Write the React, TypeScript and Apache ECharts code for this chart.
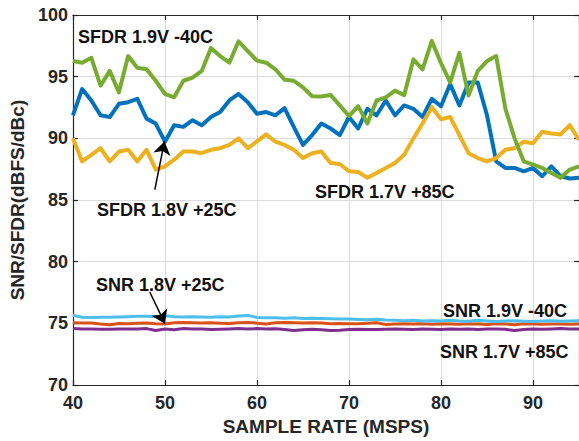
import React, { useEffect, useRef } from "react";
import * as echarts from "echarts";

const sampleRates: number[] = [];
for (let r = 40; r <= 95; r++) sampleRates.push(r);

const sfdr18_25C = [91.87, 94.0, 93.07, 91.87, 91.73, 92.8, 92.93, 93.2, 91.6, 91.2, 89.73, 91.07, 90.93, 91.47, 91.07, 91.73, 92.13, 93.07, 93.6, 92.93, 92.0, 92.13, 91.87, 92.45, 90.93, 89.47, 90.27, 91.2, 90.8, 90.27, 91.73, 90.8, 92.4, 91.87, 93.07, 91.87, 92.67, 92.4, 91.73, 93.2, 92.6, 94.4, 92.67, 94.53, 94.53, 91.87, 88.13, 87.6, 87.6, 87.33, 87.6, 86.93, 87.73, 86.93, 86.75, 86.8];
const snr18_25C = [75.05, 75.03, 75.04, 74.95, 74.9, 75.0, 74.98, 75.02, 75.04, 74.98, 74.96, 75.05, 75.08, 75.05, 75.03, 75.05, 75.02, 75.0, 75.05, 75.07, 75.02, 74.95, 75.05, 75.07, 75.05, 75.04, 75.06, 75.03, 74.98, 75.0, 74.98, 74.97, 75.02, 75.05, 74.92, 74.95, 74.97, 74.95, 74.98, 74.93, 74.98, 74.95, 74.93, 74.98, 74.95, 74.92, 74.97, 74.95, 74.9, 74.97, 74.95, 74.93, 74.96, 74.95, 74.93, 74.95];
const sfdr17_85C = [90.0, 88.13, 88.67, 89.2, 88.13, 88.93, 89.07, 88.13, 89.07, 87.47, 87.73, 88.27, 88.93, 88.93, 88.8, 89.07, 89.2, 89.47, 90.0, 89.2, 89.75, 90.32, 89.73, 89.47, 89.07, 88.4, 88.8, 88.93, 88.0, 87.92, 87.33, 87.28, 86.8, 87.2, 87.6, 88.0, 88.67, 90.0, 91.2, 92.53, 91.55, 91.73, 90.27, 88.8, 88.4, 88.13, 88.4, 89.07, 89.2, 89.73, 89.6, 90.53, 90.4, 90.32, 91.07, 89.87];
const snr17_85C = [74.58, 74.55, 74.55, 74.52, 74.52, 74.55, 74.55, 74.55, 74.58, 74.42, 74.55, 74.48, 74.58, 74.55, 74.55, 74.5, 74.52, 74.55, 74.58, 74.55, 74.58, 74.55, 74.57, 74.5, 74.42, 74.48, 74.52, 74.48, 74.42, 74.45, 74.5, 74.52, 74.5, 74.5, 74.52, 74.55, 74.52, 74.5, 74.55, 74.52, 74.5, 74.55, 74.52, 74.55, 74.5, 74.55, 74.55, 74.52, 74.42, 74.5, 74.55, 74.52, 74.55, 74.58, 74.55, 74.55];
const sfdr19_m40C = [96.27, 96.13, 96.53, 94.27, 95.47, 93.73, 96.67, 95.73, 95.6, 94.67, 93.6, 93.33, 94.67, 94.93, 95.47, 97.33, 96.67, 96.13, 97.87, 97.07, 96.3, 96.13, 95.6, 94.75, 94.67, 94.13, 93.41, 93.4, 93.52, 92.67, 91.81, 92.61, 91.2, 93.07, 93.33, 93.87, 93.5, 96.4, 95.6, 97.9, 96.1, 94.53, 96.93, 93.47, 95.47, 96.27, 96.67, 92.4, 90.0, 88.13, 87.87, 87.6, 87.2, 86.8, 87.47, 87.73];
const snr19_m40C = [75.65, 75.5, 75.48, 75.5, 75.5, 75.52, 75.55, 75.58, 75.58, 75.55, 75.62, 75.55, 75.52, 75.55, 75.52, 75.5, 75.55, 75.52, 75.6, 75.65, 75.48, 75.45, 75.45, 75.42, 75.45, 75.4, 75.42, 75.4, 75.38, 75.35, 75.35, 75.32, 75.3, 75.33, 75.28, 75.25, 75.22, 75.25, 75.2, 75.22, 75.2, 75.25, 75.2, 75.18, 75.25, 75.2, 75.15, 75.2, 75.22, 75.18, 75.15, 75.2, 75.22, 75.18, 75.2, 75.22];

const xTickLabels = ["40", "50", "60", "70", "80", "90"];
const yTickLabels = ["70", "75", "80", "85", "90", "95", "100"];

const FONT = "'Liberation Sans', Arial, Helvetica, sans-serif";
const AX = "#262626";

const pair = (ys: number[]) => sampleRates.map((x, i) => [x, ys[i]]);

export default function App() {
  const ref = useRef<HTMLDivElement>(null);
  useEffect(() => {
    document.body.style.margin = "0";
    if (!ref.current) return;
    const chart = echarts.init(ref.current, undefined, { renderer: "svg" });
    const axisCommon = {
      type: "value" as const,
      axisLine: { show: true, onZero: false, lineStyle: { color: AX, width: 1.2 } },
      axisTick: { show: true, inside: true, length: 5, lineStyle: { color: AX, width: 1.2 } },
    };
    const line = (name: string, data: number[], color: string, width: number, extra: any = {}) => ({
      name,
      type: "line",
      data: pair(data),
      showSymbol: false,
      symbol: "none",
      lineStyle: { color, width, join: "round" },
      itemStyle: { color },
      silent: true,
      ...extra,
    });
    const arrowMark = (from: number[], to: number[]) => ({
      silent: true,
      symbol: ["none", "arrow"],
      symbolSize: 13,
      label: { show: false },
      lineStyle: { color: "#000", width: 1.5, type: "solid" },
      itemStyle: { color: "#000" },
      emphasis: { disabled: true },
      data: [[{ coord: from }, { coord: to }]],
    });
    const ann = (text: string, x: number, y: number) => ({
      type: "text",
      x,
      y,
      silent: true,
      z: 100,
      style: { text, fontSize: 18, fontWeight: "bold", fontFamily: FONT, fill: "#111", verticalAlign: "middle", align: "left" },
    });
    chart.setOption({
      animation: false,
      backgroundColor: "#fff",
      grid: { left: 67, top: 15, width: 515, height: 375, containLabel: false },
      xAxis: [
        {
          ...axisCommon,
          min: 40,
          max: 95,
          interval: 10,
          name: "SAMPLE RATE (MSPS)",
          nameLocation: "middle",
          nameGap: 28,
          nameTextStyle: { fontFamily: FONT, fontWeight: "bold", fontSize: 19, color: AX },
          axisLabel: {
            showMaxLabel: false,
            margin: 9,
            fontFamily: FONT,
            fontWeight: "bold",
            fontSize: 18,
            color: AX,
            formatter: (v: number) => xTickLabels[xTickLabels.indexOf(String(v))] ?? "",
          },
          splitLine: { show: true, lineStyle: { color: "#dcdcdc", width: 1 } },
        },
        {
          ...axisCommon,
          position: "top",
          min: 40,
          max: 95,
          interval: 10,
          axisLabel: { show: false },
          splitLine: { show: false },
        },
      ],
      yAxis: [
        {
          ...axisCommon,
          min: 70,
          max: 100,
          interval: 5,
          name: "SNR/SFDR(dBFS/dBc)",
          nameLocation: "middle",
          nameGap: 40,
          nameTextStyle: { fontFamily: FONT, fontWeight: "bold", fontSize: 19, color: AX },
          axisLabel: {
            margin: 5,
            fontFamily: FONT,
            fontWeight: "bold",
            fontSize: 18,
            color: AX,
            formatter: (v: number) => yTickLabels[yTickLabels.indexOf(String(v))] ?? "",
          },
          splitLine: { show: true, lineStyle: { color: "#dcdcdc", width: 1 } },
        },
        {
          ...axisCommon,
          position: "right",
          min: 70,
          max: 100,
          interval: 5,
          axisLabel: { show: false },
          splitLine: { show: false },
        },
      ],
      series: [
        line("SFDR 1.8V +25C", sfdr18_25C, "#0072BD", 4, { markLine: arrowMark([48.9, 85.85], [49.95, 89.75]) }),
        line("SNR 1.8V +25C", snr18_25C, "#D95319", 3, { markLine: arrowMark([48.35, 77.55], [50.0, 74.98]) }),
        line("SFDR 1.7V +85C", sfdr17_85C, "#EDB120", 4),
        line("SNR 1.7V +85C", snr17_85C, "#7E2F8E", 3),
        line("SFDR 1.9V -40C", sfdr19_m40C, "#77AC30", 4),
        line("SNR 1.9V -40C", snr19_m40C, "#4DBEEE", 3),
      ],
      graphic: [
        ann("SFDR 1.9V -40C", 78, 37),
        ann("SFDR 1.8V +25C", 97, 210),
        ann("SFDR 1.7V +85C", 315, 192),
        ann("SNR 1.8V +25C", 96, 285),
        ann("SNR 1.9V -40C", 443, 311),
        ann("SNR 1.7V +85C", 440, 352),
      ],
    });
    return () => chart.dispose();
  }, []);
  return <div ref={ref} style={{ width: 579, height: 441, position: "absolute", left: 0, top: 0 }} />;
}
